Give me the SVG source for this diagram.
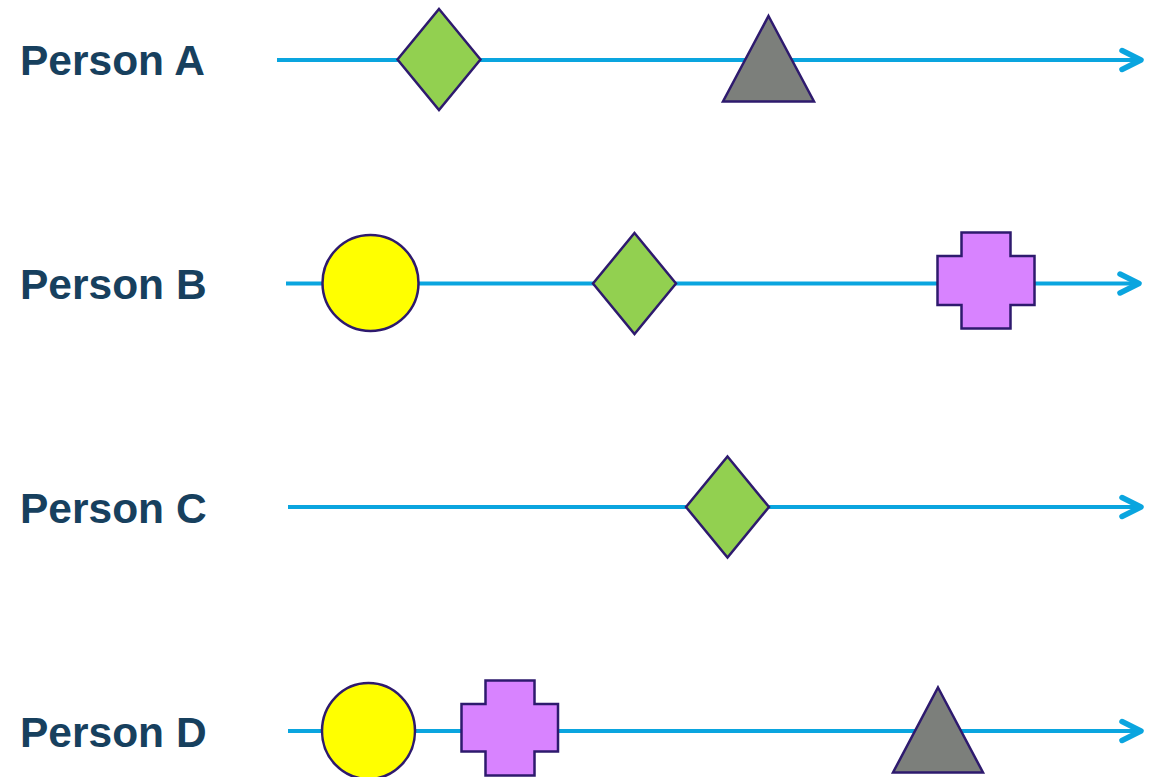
<svg xmlns="http://www.w3.org/2000/svg" width="1152" height="777" viewBox="0 0 1152 777">
  <style>
    .label { font-family: "Liberation Sans", Arial, sans-serif; font-weight: bold; font-size: 42.5px; fill: #17405E; }
    .timeline { stroke: #0AA5DF; stroke-width: 4; fill: none; }
    .shape { stroke: #2E1A6E; stroke-width: 2.5; stroke-linejoin: miter; }
    .diamond { fill: #92D050; }
    .triangle { fill: #7C7F7B; }
    .circle { fill: #FFFF00; }
    .cross { fill: #D883FF; }
  </style>
  <defs>
    <marker id="chevron" markerUnits="userSpaceOnUse" markerWidth="30" markerHeight="30" viewBox="-24 -14 30 28" refX="0" refY="0" orient="auto">
      <path d="M-19,-9.5 L0,0 L-19,9.5" fill="none" stroke="#0AA5DF" stroke-width="5.5" stroke-linecap="round" stroke-linejoin="round"/>
    </marker>
  </defs>
  <rect width="1152" height="777" fill="#FFFFFF"/>

  <!-- timelines -->
  <g id="connectors">
    <line class="timeline" x1="277" y1="60" x2="1141" y2="60" marker-end="url(#chevron)"/>
    <line class="timeline" x1="286" y1="283.5" x2="1139" y2="283.5" marker-end="url(#chevron)"/>
    <line class="timeline" x1="288" y1="507" x2="1141" y2="507" marker-end="url(#chevron)"/>
    <line class="timeline" x1="288" y1="731" x2="1141" y2="731" marker-end="url(#chevron)"/>
  </g>

  <!-- Person A -->
  <g id="person-a">
    <text class="label" x="20" y="75">Person A</text>
    <polygon class="shape diamond" points="439,9 480.5,59.5 439,110 397.5,59.5"/>
    <polygon class="shape triangle" points="768.5,16 814,101.5 723,101.5"/>
  </g>

  <!-- Person B -->
  <g id="person-b">
    <text class="label" x="20" y="299">Person B</text>
    <circle class="shape circle" cx="370.5" cy="283" r="48"/>
    <polygon class="shape diamond" points="634.5,233 676,283.5 634.5,334 593,283.5"/>
    <polygon class="shape cross" points="961.5,232.5 1010.5,232.5 1010.5,256 1034.5,256 1034.5,305 1010.5,305 1010.5,328.5 961.5,328.5 961.5,305 937.5,305 937.5,256 961.5,256"/>
  </g>

  <!-- Person C -->
  <g id="person-c">
    <text class="label" x="20" y="523">Person C</text>
    <polygon class="shape diamond" points="727.5,456.5 769,507 727.5,557.5 686,507"/>
  </g>

  <!-- Person D -->
  <g id="person-d">
    <text class="label" x="20" y="747">Person D</text>
    <ellipse class="shape circle" cx="368.5" cy="731" rx="46.5" ry="48"/>
    <polygon class="shape cross" points="485.5,680.5 534.5,680.5 534.5,704 558,704 558,751.5 534.5,751.5 534.5,775.5 485.5,775.5 485.5,751.5 461.5,751.5 461.5,704 485.5,704"/>
    <polygon class="shape triangle" points="938,687.5 983,772.5 893,772.5"/>
  </g>
</svg>
